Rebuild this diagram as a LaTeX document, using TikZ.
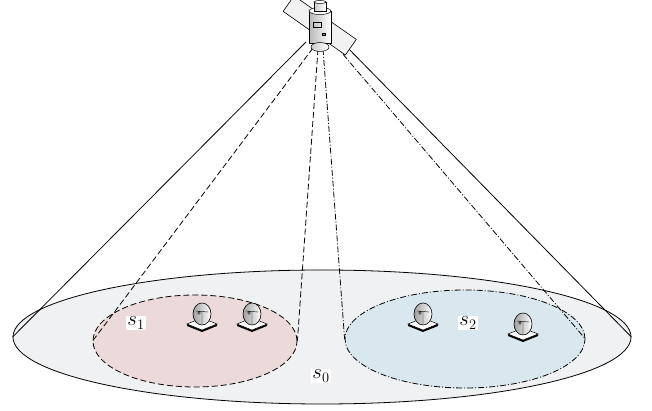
\documentclass[tikz,border=0pt]{standalone}
\usepackage{tikz}
\usetikzlibrary{shapes.geometric}

\definecolor{groundgray}{RGB}{240,241,243}
\definecolor{beamred}{RGB}{236,218,218}
\definecolor{beamblue}{RGB}{217,231,238}

\tikzset{
  area/.style={ellipse, draw, inner sep=0pt, line width=0.8pt},
  beam1/.style={line width=0.8pt, dash pattern=on 6pt off 3pt},
  beam2/.style={line width=0.8pt, dash pattern=on 6pt off 2pt on 1pt off 2pt},
  lbl/.style={fill=white, inner sep=1pt, font=\fontsize{20}{24}\selectfont},
  station/.pic={
    % base plate
    \fill[black] (-15,-9) -- (0,-15) -- (15,-9) -- (15,-11) -- (0,-17) -- (-15,-11) -- cycle;
    \draw[fill=white, line width=0.5pt] (-15,-9) -- (0,-3) -- (15,-9) -- (0,-15) -- cycle;
    % dish
    \shade[left color=gray!75, right color=white, draw=black, line width=0.6pt]
      (0,1) ellipse (9 and 11);
    \draw[line width=0.4pt] (0,-10) -- (0,3) (-6,4) -- (6,3) (-3,2) circle (1.3);
  }
}

\begin{document}
\begin{tikzpicture}[x=1pt, y=1pt]
  \useasboundingbox (0,0) rectangle (652,411);

  % coverage areas
  \node[area, fill=groundgray, minimum width=618pt, minimum height=134pt] (s0) at (322,74) {};
  \node[area, fill=beamred, beam1, minimum width=204pt, minimum height=92pt] (s1) at (195,70) {};
  \node[area, fill=beamblue, beam2, minimum width=240pt, minimum height=98pt] (s2) at (465,72) {};

  % apex points under the satellite
  \coordinate (a0) at (306,369);
  \coordinate (a1) at (313,363);
  \coordinate (a2) at (318,362);
  \coordinate (a3) at (323,362);
  \coordinate (a4) at (336,365);
  \coordinate (a5) at (342,369);

  % beams
  \draw[line width=0.8pt] (a0) -- (s0.west) (a5) -- (s0.east);
  \draw[beam1] (a1) -- (s1.west) (a2) -- (s1.east);
  \draw[beam2] (a3) -- (s2.west) (a4) -- (s2.east);

  % ground stations
  \pic at (202,96) {station};
  \pic at (252,96) {station};
  \pic at (423,96) {station};
  \pic at (523,86) {station};

  % labels
  \node[lbl] (l1) at (136,88) {$s_1$};
  \node[lbl] (l2) at (468,88) {$s_2$};
  \node[lbl] (l0) at (321,35) {$s_0$};

  % satellite
  \draw[fill=gray!10, line width=0.6pt, rotate around={-35:(320,386)}]
    (282,376) rectangle (358,395);
  \shade[left color=gray!55, right color=white, draw=black, line width=0.6pt]
    (309,368) rectangle (331,400);
  \draw[fill=white, line width=0.5pt] (320,400) ellipse (11 and 3.5);
  \shade[left color=gray!40, right color=white, draw=black, line width=0.5pt]
    (314,400) rectangle (326,409);
  \draw[fill=white, line width=0.5pt] (320,409) ellipse (6 and 1.5);
  \shade[left color=gray!40, right color=white, draw=black, line width=0.5pt]
    (320,364) ellipse (9 and 4.5);
  \draw[line width=0.4pt] (313,389) rectangle (321,384);
  \draw[fill=gray, line width=0.3pt] (322,378) rectangle (325,376);
  \node (sat) at (320,386) {};
\end{tikzpicture}
\end{document}
